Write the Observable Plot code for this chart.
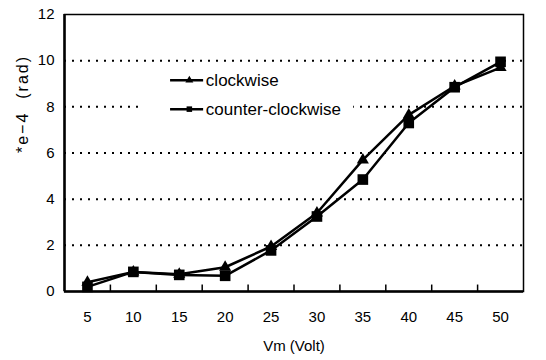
<!DOCTYPE html>
<html>
<head>
<meta charset="utf-8">
<script src="https://cdn.jsdelivr.net/npm/d3@7"></script>
<script src="https://cdn.jsdelivr.net/npm/@observablehq/plot@0.6"></script>
<style>
  body { margin: 0; background: #fff; }
  #chart svg { display: block; }
</style>
</head>
<body>
<div id="chart"></div>
<script>
const voltages = [5, 10, 15, 20, 25, 30, 35, 40, 45, 50];
const clockwise = [0.4, 0.85, 0.75, 1.05, 1.95, 3.4, 5.7, 7.65, 8.9, 9.7];
const counterClockwise = [0.2, 0.85, 0.72, 0.68, 1.78, 3.25, 4.85, 7.3, 8.85, 9.95];
const yTicks = [0, 2, 4, 6, 8, 10, 12];
const gridValues = [2, 4, 6, 8, 10];
const bandEdges = [7.5, 12.5, 17.5, 22.5, 27.5, 32.5, 37.5, 42.5, 47.5];
const seriesNames = ["clockwise", "counter-clockwise"];
const seriesSymbols = ["triangle", "square"];
const xTitle = "Vm (Volt)";
const yTitle = "*e−4  (rad)";

const data = [
  ...voltages.map((v, i) => ({ v, value: clockwise[i], series: seriesNames[0] })),
  ...voltages.map((v, i) => ({ v, value: counterClockwise[i], series: seriesNames[1] }))
];
const cw = data.filter(d => d.series === seriesNames[0]);
const ccw = data.filter(d => d.series === seriesNames[1]);

const legend = seriesNames.map((name, i) => ({ name, symbol: seriesSymbols[i], y: [9.15, 7.9][i] }));

const chart = Plot.plot({
  width: 546,
  height: 360,
  marginLeft: 64,
  marginRight: 23,
  marginTop: 14,
  marginBottom: 69,
  style: { fontFamily: "Liberation Sans, Arial, sans-serif", fontSize: "15px", background: "white", color: "black" },
  x: { type: "linear", domain: [2.5, 52.5], ticks: voltages, tickSize: 0, tickPadding: 20, label: null },
  y: { domain: [0, 12], ticks: yTicks, tickSize: 0, tickPadding: 10, label: null },
  marks: [
    Plot.ruleY(gridValues, { stroke: "black", strokeWidth: 2, strokeDasharray: "2,6" }),
    Plot.rect([0], { x1: 10.8, x2: 34, y1: 7.4, y2: 9.6, fill: "white" }),
    Plot.ruleX(bandEdges, { y1: 0, y2: 0.28, stroke: "black", strokeWidth: 1.5 }),
    Plot.frame({ stroke: "black", strokeWidth: 1.5 }),
    Plot.ruleX([2.5], { stroke: "black", strokeWidth: 2.5 }),
    Plot.ruleY([0], { stroke: "black", strokeWidth: 2.5 }),
    Plot.line(cw, { x: "v", y: "value", stroke: "black", strokeWidth: 2.5 }),
    Plot.line(ccw, { x: "v", y: "value", stroke: "black", strokeWidth: 2.5 }),
    Plot.dot(cw, { x: "v", y: "value", symbol: "triangle", r: 4.5, fill: "black" }),
    Plot.dot(ccw, { x: "v", y: "value", symbol: "square", r: 6, fill: "black" }),
    Plot.link(legend, { x1: 14.0, x2: 17.6, y1: "y", y2: "y", stroke: "black", strokeWidth: 2.5 }),
    Plot.dot(legend, { x: 16.1, y: "y", symbol: "symbol", r: d => d.symbol === "square" ? 5 : 4.5, fill: "black" }),
    Plot.text(legend, { x: 17.9, y: "y", text: "name", textAnchor: "start", fontSize: 17 }),
    Plot.text([xTitle], { frameAnchor: "bottom", dy: 59, fontSize: 15 }),
    Plot.text([yTitle], { frameAnchor: "left", dx: -42, rotate: -90, fontSize: 16 })
  ]
});
d3.select(chart).selectAll("text").filter(function () { return this.textContent === yTitle; })
  .attr("letter-spacing", "2px");
document.getElementById("chart").appendChild(chart);
</script>
</body>
</html>
